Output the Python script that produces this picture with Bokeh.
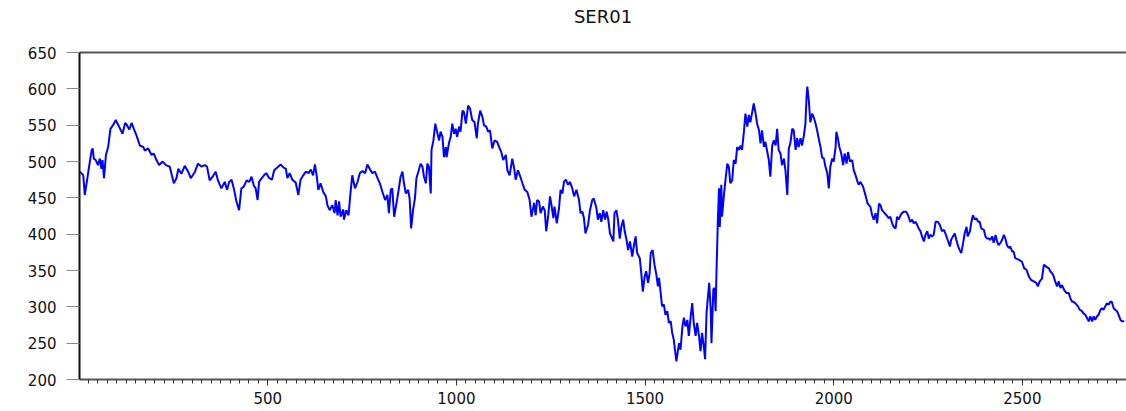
from bokeh.plotting import figure
from bokeh.models import Range1d, SingleIntervalTicker, LinearAxis, FixedTicker
from bokeh.embed import file_html
from bokeh.resources import INLINE

title_text = "SER01"

obs = [
    2, 11, 15, 21, 27, 33, 36, 39, 44, 50, 55, 59, 62, 66, 71, 77, 83, 90, 97, 104,
    115, 122, 127, 133, 139, 145, 152, 161, 170, 174, 183, 192, 198, 205, 212, 221, 230, 240, 251, 258,
    263, 271, 280, 289, 296, 307, 315, 324, 333, 339, 346, 355, 362, 368, 377, 386, 392, 398, 404, 410,
    417, 424, 430, 436, 444, 451, 457, 463,
    468, 473, 477, 484, 490, 496, 504, 511, 517, 526, 534, 541, 548, 552, 558, 565, 574, 581, 587, 594,
    601, 608, 614, 620, 625, 630, 634, 640, 647, 654, 658, 664, 671, 677, 680, 685, 689, 693, 700, 702,
    708, 714, 720, 724, 731, 738, 744, 751, 758, 764, 770, 777, 784, 791, 797, 804, 811, 817, 821, 826,
    830, 835, 841, 846, 852, 857, 861, 866, 872, 876, 880, 885, 890, 894, 899, 905, 910, 914, 919, 923, 927,
    932, 934, 939, 944, 950, 954, 958, 963, 967, 972, 974, 980, 985, 989, 994, 998, 1002, 1007, 1011, 1016,
    1020, 1025, 1031, 1036, 1042, 1048, 1054, 1057, 1063, 1069, 1073, 1079, 1084, 1089, 1095, 1101, 1108, 1113, 1119, 1124,
    1131, 1135, 1141, 1148, 1153, 1157, 1163, 1168, 1175, 1181, 1188, 1194, 1199, 1206, 1210, 1214, 1219, 1223, 1229, 1234,
    1238, 1243, 1248, 1252, 1257, 1260, 1266, 1272, 1276, 1281, 1285, 1290, 1296, 1301, 1307, 1312, 1318, 1325, 1329, 1334,
    1338, 1342, 1349, 1354, 1360, 1364, 1371, 1375, 1380, 1384, 1389, 1394, 1398, 1402, 1407,
    1416, 1419, 1424, 1428, 1433, 1437, 1442, 1446, 1451, 1455, 1460, 1466, 1470, 1475, 1479, 1486, 1490, 1494, 1499, 1503,
    1508, 1512, 1515, 1520, 1525, 1530, 1534, 1537, 1541, 1545, 1550, 1554, 1559, 1563, 1568, 1572, 1576, 1583, 1590, 1594,
    1599, 1603, 1607, 1612, 1616, 1621, 1625, 1629, 1634, 1638, 1643, 1647, 1651, 1656, 1659, 1663, 1666, 1670, 1674, 1676,
    1681, 1684, 1687, 1689,
    1693, 1696, 1698, 1702, 1704, 1709, 1713, 1718, 1722, 1726, 1731, 1735, 1740, 1744, 1749, 1753, 1757, 1762, 1766, 1771,
    1775, 1779, 1784, 1788, 1793, 1797, 1802, 1806, 1810, 1815, 1819, 1824, 1828, 1832, 1837, 1841, 1846, 1850, 1854, 1859,
    1863, 1868, 1872, 1877, 1881, 1885, 1890, 1894, 1899, 1903, 1907, 1912, 1916, 1921, 1925, 1928, 1930, 1934, 1938, 1943,
    1947, 1952, 1956, 1960, 1965, 1969, 1974, 1978, 1983, 1987, 1991, 1996, 2000, 2005, 2007, 2011, 2015, 2020, 2025, 2029,
    2034, 2038, 2043, 2049, 2053, 2058, 2062, 2066,
    2071, 2078, 2084, 2090, 2097, 2102, 2106, 2111, 2115, 2120, 2124, 2128, 2135, 2140, 2146, 2150, 2155, 2159, 2164, 2168,
    2172, 2177, 2181, 2186, 2192, 2197, 2203, 2208, 2212, 2217, 2221, 2225, 2230, 2234, 2239, 2243, 2248, 2252, 2256, 2261,
    2265, 2270, 2276, 2281, 2287, 2292, 2296, 2302, 2308, 2311, 2316, 2321, 2325, 2330, 2334, 2338, 2343, 2347, 2352, 2355,
    2361, 2365, 2369, 2374, 2378, 2383, 2387, 2391, 2398, 2402, 2406, 2411, 2415, 2420, 2424, 2429, 2433, 2437, 2442, 2446,
    2451, 2455, 2459, 2464, 2468, 2473, 2477,
    2481, 2490, 2499, 2505, 2511, 2517, 2523, 2530, 2537, 2541, 2546, 2552, 2557, 2564, 2570, 2574, 2579, 2583, 2587, 2592,
    2596, 2601, 2605, 2611, 2617, 2623, 2627, 2632, 2636, 2640, 2647, 2652, 2658, 2662, 2667, 2671, 2676, 2680, 2685, 2689,
    2693, 2698, 2702, 2707, 2711, 2715, 2720, 2724, 2729, 2733, 2737, 2742, 2746, 2751, 2755, 2760, 2764, 2770,
]

ser01 = [
    486, 481, 454, 474, 495, 515, 518, 504, 502, 495, 504, 490, 502, 477, 509, 520, 545, 550, 557, 550,
    538, 553, 550, 544, 553, 545, 536, 522, 520, 515, 518, 509, 511, 502, 495, 500, 495, 493, 470, 477,
    490, 483, 494, 486, 477, 486, 497, 493, 495, 493, 474, 480, 486, 474, 463, 472, 461, 472, 475, 463,
    445, 433, 463, 465, 474, 472, 479, 467,
    463, 447, 472, 477, 481, 484, 477, 475, 488, 492, 496, 492, 490, 477, 484, 475, 471, 454, 475, 481,
    486, 484, 489, 481, 496, 479, 461, 470, 458, 452, 440, 433, 440, 429, 447, 426, 445, 424, 434, 420,
    433, 426, 461, 481, 463, 472, 484, 487, 484, 496, 490, 484, 486, 477, 470, 458, 447, 454, 429, 461,
    463, 424, 442, 458, 479, 486, 470, 456, 461, 449, 408, 433, 449, 477, 486, 497, 493, 479, 470, 497, 493,
    456, 516, 529, 552, 538, 529, 541, 534, 506, 520, 506, 525, 534, 552, 538, 545, 534, 548, 541, 570,
    568, 552, 577, 573, 557, 554, 532, 552, 570, 561, 550, 548, 541, 543, 518, 529, 527, 520, 513, 502,
    509, 488, 481, 504, 491, 475, 488, 481, 470, 461, 458, 447, 424, 443, 426, 447, 445, 429, 438, 433,
    404, 424, 452, 440, 422, 438, 415, 436, 461, 456, 472, 475, 468, 472, 463, 452, 461, 447, 429, 431,
    422, 401, 413, 433, 447, 449, 436, 420, 429, 417, 433, 420, 431, 422, 401,
    390, 429, 433, 420, 394, 410, 420, 404, 392, 378, 390, 369, 383, 397, 374, 367, 346, 321, 342, 349,
    333, 346, 374, 378, 358, 344, 328, 340, 321, 301, 303, 289, 294, 278, 280, 264, 255, 225, 250, 241,
    273, 285, 273, 282, 260, 287, 305, 278, 260, 278, 260, 239, 264, 244, 228, 292, 310, 333, 296, 250,
    324, 326, 294, 342,
    420, 463, 410, 468, 424, 454, 474, 497, 493, 470, 474, 502, 497, 520, 516, 522, 516, 541, 566, 548,
    564, 554, 568, 580, 566, 552, 543, 525, 543, 520, 527, 513, 502, 479, 522, 529, 522, 545, 516, 511,
    495, 504, 488, 454, 518, 525, 545, 543, 516, 532, 520, 532, 522, 536, 552, 589, 603, 584, 554, 566,
    561, 552, 543, 532, 520, 506, 504, 493, 484, 463, 493, 504, 500, 520, 541, 532, 520, 511, 495, 511,
    497, 513, 500, 502, 488, 481, 474, 468,
    472, 465, 454, 442, 438, 426, 420, 429, 415, 442, 440, 433, 429, 426, 422, 424, 415, 410, 408, 424,
    420, 426, 429, 431, 431, 426, 417, 420, 415, 417, 413, 408, 404, 397, 390, 399, 404, 394, 399, 397,
    399, 417, 417, 413, 404, 406, 401, 392, 383, 392, 397, 401, 392, 383, 378, 374, 388, 401, 410, 397,
    404, 417, 426, 420, 422, 417, 417, 408, 406, 397, 394, 394, 392, 397, 388, 399, 390, 385, 388, 392,
    399, 394, 385, 381, 383, 376, 376,
    367, 365, 362, 353, 351, 342, 337, 335, 333, 328, 335, 339, 358, 355, 353, 349, 346, 342, 335, 328,
    335, 326, 330, 323, 319, 319, 312, 307, 307, 305, 301, 296, 294, 291, 289, 285, 280, 287, 280, 287,
    282, 287, 289, 296, 298, 296, 301, 305, 303, 307, 307, 298, 296, 294, 289, 282, 280, 280,
]

x_start, x_end = 1, 2776
y_start, y_end = 200, 650
x_major_step, x_minor_per_major = 500, 20
y_major_step = 50

p = figure(width=1126, height=406, output_backend="svg", toolbar_location=None,
           x_range=Range1d(x_start, x_end), y_range=Range1d(y_start, y_end),
           x_axis_type=None, y_axis_type=None,
           min_border_left=79, min_border_right=0, min_border_top=52, min_border_bottom=26)

p.outline_line_color = None
p.background_fill_color = "white"
p.border_fill_color = "white"

xaxis = LinearAxis(ticker=SingleIntervalTicker(interval=x_major_step, num_minor_ticks=x_minor_per_major))
xaxis.axis_line_color = "#555555"
xaxis.axis_line_width = 2
xaxis.major_tick_in = 0
xaxis.major_tick_out = 6
xaxis.minor_tick_in = 0
xaxis.minor_tick_out = 4
xaxis.major_tick_line_color = "#333333"
xaxis.minor_tick_line_color = "#333333"
xaxis.major_label_standoff = 6
xaxis.major_label_text_font = "DejaVu Sans"
xaxis.major_label_text_font_size = "15px"
xaxis.major_label_text_color = "#111111"
p.add_layout(xaxis, "below")

yaxis = LinearAxis(ticker=SingleIntervalTicker(interval=y_major_step, num_minor_ticks=0))
yaxis.axis_line_color = "#111111"
yaxis.axis_line_width = 2
yaxis.major_tick_in = 0
yaxis.major_tick_out = 13
yaxis.minor_tick_line_color = None
yaxis.major_tick_line_color = "#888888"
yaxis.major_label_standoff = 10
yaxis.major_label_text_font = "DejaVu Sans"
yaxis.major_label_text_font_size = "15px"
yaxis.major_label_text_color = "#111111"
p.add_layout(yaxis, "left")

# top frame line, carrying the chart title as its label
topaxis = LinearAxis(ticker=FixedTicker(ticks=[]))
topaxis.axis_line_color = "#555555"
topaxis.axis_line_width = 2
topaxis.major_tick_in = 0
topaxis.major_tick_out = 0
topaxis.major_tick_line_color = None
topaxis.minor_tick_in = 0
topaxis.minor_tick_out = 0
topaxis.minor_tick_line_color = None
topaxis.major_label_standoff = 0
topaxis.major_label_text_font_size = "0px"
topaxis.axis_label = title_text
topaxis.axis_label_standoff = 26
topaxis.axis_label_text_font = "DejaVu Sans"
topaxis.axis_label_text_font_size = "18px"
topaxis.axis_label_text_font_style = "normal"
topaxis.axis_label_text_color = "#111111"
p.add_layout(topaxis, "above")

p.line(obs, ser01, line_color="#0000ff", line_width=2)

open("out.html", "w").write(file_html(p, INLINE))
